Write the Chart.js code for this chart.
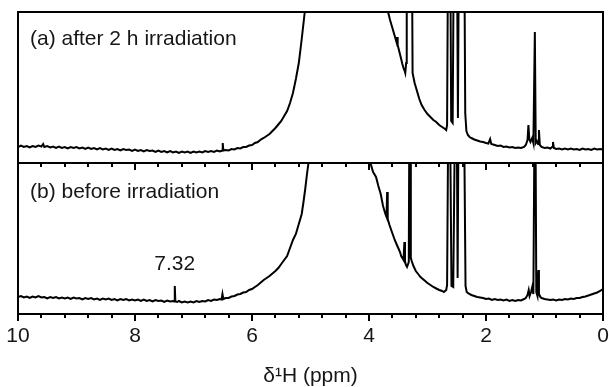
<!DOCTYPE html>
<html>
<head>
<meta charset="utf-8">
<script src="https://cdn.jsdelivr.net/npm/chart.js@4/dist/chart.umd.min.js"></script>
<style>
html,body{margin:0;padding:0;background:#fff;width:609px;height:387px;overflow:hidden}
#wb{position:absolute;left:0;top:150px;width:609px;height:237px}
#wa{position:absolute;left:0;top:0;width:609px;height:175px}
canvas{display:block}
</style>
</head>
<body>
<div id="wb"><canvas id="cb" width="609" height="237"></canvas></div>
<div id="wa"><canvas id="ca" width="609" height="175"></canvas></div>
<script>
// ---- data (chemical shift in ppm, intensity in arbitrary units) ----
const majorTicks = [10, 8, 6, 4, 2, 0];
const minorTicks = [9.6, 9.2, 8.8, 8.4, 7.6, 7.2, 6.8, 6.4, 5.6, 5.2, 4.8, 4.4, 3.6, 3.2, 2.8, 2.4, 1.6, 1.2, 0.8, 0.4];
const panelLabels = ['(a) after 2 h irradiation', '(b) before irradiation'];
const peakLabelPpm = 7.32;
const peakLabelText = '7.32';
const axisTitle = 'δ¹H (ppm)';

// (a) after 2 h irradiation
const spectrumA = [
[10.00,16],[9.95,17.5],[9.90,16],[9.85,17],[9.80,15.5],[9.75,17],[9.70,16],[9.65,17.5],[9.60,16.5],[9.57,19],
[9.55,16],[9.50,17],[9.45,15.5],[9.40,16.5],[9.35,15],[9.30,16.5],[9.25,15],[9.20,16],[9.15,14.5],[9.10,16],
[9.05,15],[9.00,16],[8.95,14.5],[8.90,15.5],[8.85,14],[8.80,15.5],[8.75,14],[8.70,15],[8.65,13.5],[8.60,15],
[8.55,13.5],[8.50,14.5],[8.45,13],[8.40,14.5],[8.35,13],[8.30,14],[8.25,12.5],[8.20,14],[8.15,13],[8.10,13.5],
[8.05,12],[8.00,13.5],[7.95,12],[7.90,13],[7.85,11.5],[7.80,13],[7.75,12],[7.70,12.5],[7.65,11],[7.60,12.5],
[7.55,11],[7.50,12],[7.45,10.5],[7.40,12],[7.35,10.5],[7.30,11.5],[7.25,10],[7.20,11.5],[7.15,10.5],[7.10,11.5],
[7.05,10],[7.00,11.5],[6.95,10.5],[6.90,11.5],[6.85,10.5],[6.80,12],[6.75,11],[6.70,12],[6.65,11],[6.60,12.5],
[6.55,11.5],[6.51,12.5],[6.50,20],[6.49,12.5],[6.45,13],[6.40,12.5],[6.35,14],[6.30,13.5],[6.25,15],[6.20,14.5],
[6.15,16],[6.10,16],[6.05,17.5],[6.00,18],[5.95,20],[5.90,21],[5.85,23.5],[5.80,25],[5.75,27],[5.70,29],
[5.65,32],[5.60,35],[5.55,38.5],[5.50,42],[5.45,47],[5.40,52],[5.35,60],[5.30,70],[5.25,84],[5.20,100],
[5.15,124],[5.10,150],[5.05,185],[5.00,260],[3.75,260],[3.70,160],[3.67,150],[3.64,143],[3.60,135],[3.56,127],
[3.53,121],[3.52,126],[3.51,118],[3.48,111],[3.45,104],[3.43,99],[3.41,95],[3.39,92],[3.38,90],[3.365,100],
[3.355,260],[3.27,260],[3.255,90],[3.22,80],[3.18,72],[3.14,64],[3.10,58],[3.05,53],[3.00,49],[2.95,46],
[2.90,43],[2.85,41],[2.80,38],[2.75,36],[2.70,34],[2.68,33],[2.665,38],[2.645,260],[2.615,260],[2.595,42],
[2.57,40],[2.545,260],[2.50,260],[2.48,45],[2.46,260],[2.375,260],[2.355,50],[2.335,32],[2.31,28],[2.28,26],
[2.25,25],[2.20,23.5],[2.15,22.5],[2.10,21.5],[2.05,21],[2.00,20],[1.96,19.5],[1.93,24],[1.91,19],[1.85,18],
[1.80,17],[1.75,17.5],[1.70,16],[1.65,16.5],[1.60,15.5],[1.55,16],[1.50,15],[1.45,15.5],[1.40,15],[1.35,16],
[1.32,18],[1.29,23],[1.275,38],[1.26,24],[1.24,21],[1.21,25],[1.19,20],[1.165,131],[1.15,20],[1.13,22],
[1.11,19],[1.095,33],[1.08,18],[1.05,16],[1.00,15],[0.95,15.5],[0.90,14.5],[0.87,16],[0.855,21],[0.84,15],
[0.80,14],[0.75,14.5],[0.70,13.5],[0.65,14.5],[0.60,13.5],[0.55,14.5],[0.50,13.5],[0.45,14],[0.40,13],[0.35,14.5],
[0.30,13.5],[0.25,14],[0.20,13],[0.15,14.5],[0.10,13.5],[0.05,14],[0.00,13.5]
];

// (b) before irradiation
const spectrumB = [
[10.00,17],[9.95,18],[9.90,16.5],[9.85,17.5],[9.80,16],[9.75,17.5],[9.70,16.5],[9.65,18],[9.60,16.5],[9.55,17],
[9.50,15.5],[9.45,17],[9.40,16],[9.35,17],[9.30,15.5],[9.25,16.5],[9.20,15.5],[9.15,16.5],[9.10,15],[9.05,16.5],
[9.00,15.5],[8.95,16],[8.90,14.5],[8.85,16],[8.80,15],[8.75,16],[8.70,14.5],[8.65,15.5],[8.60,14],[8.55,15.5],
[8.50,14.5],[8.45,15.5],[8.40,14],[8.35,15],[8.30,13.5],[8.25,15],[8.20,14],[8.15,15],[8.10,13.5],[8.05,14.5],
[8.00,13.5],[7.95,14.5],[7.90,13],[7.85,14.5],[7.80,13],[7.75,14],[7.70,12.5],[7.65,14],[7.60,13],[7.55,13.5],
[7.50,12],[7.45,13.5],[7.40,12.5],[7.35,13],[7.33,12.5],[7.32,28],[7.31,12.5],[7.28,12],[7.25,13],[7.20,11.5],
[7.15,12.5],[7.10,11.5],[7.05,12.5],[7.00,11.5],[6.95,13],[6.90,12],[6.85,13],[6.80,12.5],[6.75,14],[6.70,13],
[6.65,14.5],[6.60,14],[6.55,15],[6.52,14.5],[6.505,20],[6.49,15],[6.45,16],[6.40,16],[6.35,17.5],[6.30,18],
[6.25,19.5],[6.20,20],[6.15,21.5],[6.10,22],[6.05,24],[6.00,25],[5.95,27],[5.90,29],[5.85,31.5],[5.80,34],
[5.75,36],[5.70,38],[5.65,40.5],[5.60,43],[5.55,46],[5.50,50],[5.45,54],[5.40,58],[5.35,66],[5.30,74],
[5.25,80],[5.20,90],[5.15,100],[5.12,112],[5.09,125],[5.06,140],[5.03,153],[5.00,200],[4.00,200],[3.97,150],
[3.93,142],[3.88,137],[3.84,128],[3.80,120],[3.76,108],[3.72,100],[3.70,97],[3.69,122],[3.68,95],[3.65,89],
[3.62,84],[3.59,79],[3.56,74],[3.53,70],[3.50,66],[3.47,62],[3.45,58],[3.43,56],[3.41,54],[3.395,72],
[3.385,53],[3.37,49],[3.35,47],[3.32,52],[3.31,200],[3.295,200],[3.285,56],[3.27,53],[3.24,48],[3.20,43],
[3.16,40],[3.12,37],[3.08,35],[3.04,33],[3.00,31],[2.95,29],[2.90,27],[2.85,25.5],[2.80,24],[2.75,23],
[2.72,22],[2.68,24],[2.665,29],[2.645,200],[2.615,200],[2.59,28],[2.56,27],[2.53,200],[2.50,200],[2.485,36],
[2.47,200],[2.375,200],[2.35,28],[2.33,22],[2.30,20.5],[2.25,19],[2.20,18],[2.15,17],[2.10,16.5],[2.05,16],
[2.00,15],[1.95,15.5],[1.90,14],[1.85,15],[1.80,14],[1.75,14.5],[1.70,13.5],[1.65,14.5],[1.60,13],[1.55,14],
[1.50,13],[1.45,14],[1.40,13.5],[1.35,15],[1.32,16],[1.29,19],[1.27,24],[1.255,18],[1.23,22],[1.21,27],
[1.19,20],[1.17,200],[1.155,200],[1.14,22],[1.12,18],[1.105,44],[1.095,20],[1.07,17],[1.05,16],[1.00,15],
[0.95,14.5],[0.90,14],[0.85,14.5],[0.80,13.5],[0.75,14.5],[0.70,14],[0.65,15],[0.60,14.5],[0.55,15.5],[0.50,15],
[0.45,16],[0.40,16],[0.35,17],[0.30,17.5],[0.25,18.5],[0.20,19.5],[0.15,20.5],[0.10,21.5],[0.05,23],[0.00,25]
];

// ---- rendering ----
const FONT = '"Liberation Sans", Arial, Helvetica, sans-serif';
const TEXT = '#161616';

const framePlugin = {
  id: 'frame',
  afterDatasetsDraw(chart, args, opts) {
    const ctx = chart.ctx, a = chart.chartArea, x = chart.scales.x, y = chart.scales.y;
    ctx.save();
    ctx.strokeStyle = '#000';
    ctx.lineWidth = 2;
    ctx.strokeRect(a.left, a.top, a.right - a.left, a.bottom - a.top);
    ctx.beginPath();
    majorTicks.forEach(v => { const p = Math.round(x.getPixelForValue(v)); ctx.moveTo(p, a.bottom); ctx.lineTo(p, a.bottom + 7); });
    minorTicks.forEach(v => { const p = Math.round(x.getPixelForValue(v)); ctx.moveTo(p, a.bottom); ctx.lineTo(p, a.bottom + 4); });
    ctx.stroke();
    ctx.fillStyle = TEXT;
    ctx.font = '21px ' + FONT;
    ctx.textBaseline = 'middle';
    ctx.textAlign = 'left';
    ctx.fillText(opts.label, a.left + 12, a.top + opts.labelDy);
    if (opts.annot) {
      ctx.textAlign = 'center';
      ctx.fillText(opts.annot.text, x.getPixelForValue(opts.annot.ppm), y.getPixelForValue(opts.annot.level));
    }
    ctx.restore();
  }
};

function lineDataset(points) {
  return {
    data: points.map(p => ({x: p[0], y: p[1]})),
    borderColor: '#000',
    borderWidth: 2,
    pointRadius: 0,
    tension: 0,
    fill: false,
    clip: 0
  };
}

new Chart(document.getElementById('ca'), {
  type: 'line',
  data: { datasets: [lineDataset(spectrumA)] },
  options: {
    responsive: false, animation: false, devicePixelRatio: 1,
    layout: { padding: { left: 18, right: 6, top: 12, bottom: 12 } },
    scales: {
      x: { type: 'linear', min: 0, max: 10, reverse: true, display: false },
      y: { min: 0, max: 151, display: false }
    },
    plugins: {
      legend: { display: false }, tooltip: { enabled: false },
      frame: { label: panelLabels[0], labelDy: 27 }
    }
  },
  plugins: [framePlugin]
});

new Chart(document.getElementById('cb'), {
  type: 'line',
  data: { datasets: [lineDataset(spectrumB)] },
  options: {
    responsive: false, animation: false, devicePixelRatio: 1,
    layout: { padding: { left: 18, right: 6, top: 13, bottom: 0 } },
    scales: {
      x: {
        type: 'linear', min: 0, max: 10, reverse: true,
        grid: { display: false, drawTicks: false },
        border: { display: false },
        afterBuildTicks: s => { s.ticks = majorTicks.map(v => ({ value: v })); },
        afterFit: s => { s.height = 73; s.paddingLeft = 0; s.paddingRight = 0; },
        ticks: { color: TEXT, padding: 10, maxRotation: 0, autoSkip: false,
                 font: { family: FONT, size: 21 }, callback: v => String(v) },
        title: { display: true, text: axisTitle, color: TEXT, padding: 0,
                 font: { family: FONT, size: 21, lineHeight: 1 } }
      },
      y: { min: 0, max: 151, display: false }
    },
    plugins: {
      legend: { display: false }, tooltip: { enabled: false },
      frame: { label: panelLabels[1], labelDy: 29.5,
               annot: { ppm: peakLabelPpm, text: peakLabelText, level: 49.5 } }
    }
  },
  plugins: [framePlugin]
});
</script>
</body>
</html>
